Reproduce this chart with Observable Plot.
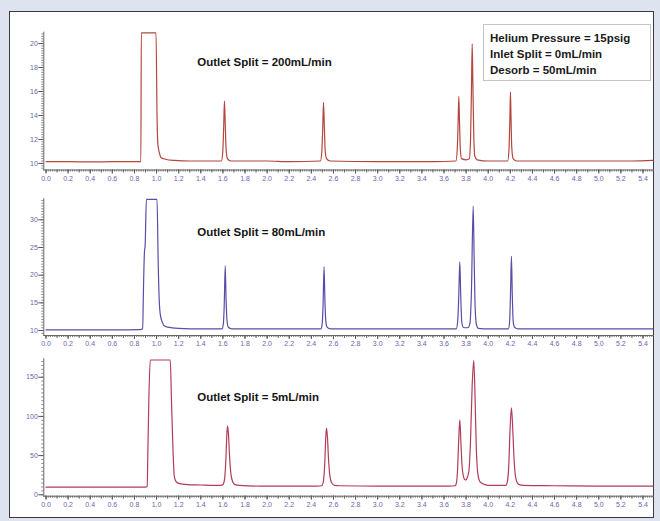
<!DOCTYPE html>
<html><head><meta charset="utf-8">
<script src="https://cdn.jsdelivr.net/npm/d3@7"></script>
<script src="https://cdn.jsdelivr.net/npm/@observablehq/plot@0.6"></script>
<style>
html,body{margin:0;padding:0;}
body{width:660px;height:521px;background:#dde3ef;position:relative;overflow:hidden;font-family:"Liberation Sans",Arial,sans-serif;}
#panel{position:absolute;left:9px;top:11px;width:645px;height:507px;background:#fff;border:1.5px solid #3a3a3a;box-sizing:border-box;}
.plot{position:absolute;left:0;}
#legend{position:absolute;left:483px;top:24px;width:168px;height:57px;border:1px solid #c4c4c4;background:#fff;box-sizing:border-box;padding:4.7px 0 0 6px;font-weight:bold;font-size:11.5px;line-height:16px;color:#1a1a1a;white-space:nowrap;}
</style>
</head><body>
<div id="panel"></div>
<div id="p1" class="plot" style="top:0px"></div>
<div id="p2" class="plot" style="top:188px"></div>
<div id="p3" class="plot" style="top:353px"></div>
<div id="legend"></div>
<script>
// ---- data (time in min, detector signal) ----
const xTicks = [0.0,0.2,0.4,0.6,0.8,1.0,1.2,1.4,1.6,1.8,2.0,2.2,2.4,2.6,2.8,3.0,3.2,3.4,3.6,3.8,4.0,4.2,4.4,4.6,4.8,5.0,5.2,5.4];
const legendLines = ["Helium Pressure = 15psig","Inlet Split = 0mL/min","Desorb = 50mL/min"];
const panelLabels = ["Outlet Split = 200mL/min","Outlet Split = 80mL/min","Outlet Split = 5mL/min"];

const yTicks200 = [10,12,14,16,18,20];
const yTicks80 = [10,15,20,25,30];
const yTicks5 = [0,50,100,150];

const split200 = [
 [0.00,10.15],[0.20,10.15],[0.40,10.12],[0.60,10.15],[0.80,10.15],[0.858,10.15],
 [0.862,20.9],[0.995,20.9],
 [1.005,13.5],[1.012,11.6],[1.025,10.9],[1.04,10.5],[1.08,10.35],[1.16,10.25],[1.30,10.2],[1.50,10.2],
 [1.586,10.2],[1.599,11.0],[1.607,13.0],[1.614,15.2],[1.621,13.4],[1.629,11.2],[1.641,10.4],[1.67,10.2],
 [2.00,10.2],[2.20,10.15],
 [2.482,10.2],[2.495,11.0],[2.503,13.0],[2.510,15.1],[2.517,13.3],[2.525,11.1],[2.537,10.4],[2.57,10.2],
 [3.00,10.15],[3.50,10.15],
 [3.708,10.2],[3.720,11.2],[3.728,13.5],[3.734,15.6],[3.740,13.6],[3.747,11.3],[3.758,10.4],
 [3.80,10.3],[3.829,10.4],[3.840,12.0],[3.849,16.5],[3.855,19.97],[3.861,16.8],[3.869,12.5],[3.879,10.6],[3.90,10.3],
 [4.00,10.2],[4.176,10.2],[4.188,11.2],[4.196,13.8],[4.201,15.97],[4.206,13.9],[4.213,11.3],[4.225,10.4],[4.26,10.2],
 [4.60,10.2],[5.00,10.2],[5.30,10.2],[5.49,10.25]
];

const split80 = [
 [0.00,10.1],[0.30,10.1],[0.60,10.1],[0.85,10.15],[0.874,10.3],[0.882,18],[0.890,24],[0.897,25.5],[0.908,33.7],[1.004,33.7],
 [1.015,22],[1.025,15],[1.033,13],[1.05,11.6],[1.067,10.9],[1.10,10.6],[1.20,10.4],[1.40,10.3],
 [1.592,10.3],[1.604,11.2],[1.612,14.5],[1.621,21.7],[1.629,15.5],[1.637,11.8],[1.649,10.6],[1.68,10.3],
 [2.00,10.3],[2.30,10.3],
 [2.486,10.3],[2.498,11.2],[2.506,14.5],[2.515,21.5],[2.523,15.3],[2.531,11.7],[2.543,10.6],[2.575,10.3],
 [3.00,10.3],[3.50,10.3],
 [3.710,10.3],[3.723,11.5],[3.733,16],[3.743,22.4],[3.751,16.5],[3.761,11.5],[3.774,10.6],
 [3.80,10.5],[3.822,10.6],[3.836,11.5],[3.848,17],[3.864,32.5],[3.872,24],[3.882,14],[3.894,11.0],[3.91,10.4],
 [4.00,10.3],
 [4.182,10.3],[4.193,11.5],[4.202,17],[4.210,23.4],[4.217,17],[4.226,11.6],[4.238,10.6],[4.27,10.3],
 [4.60,10.3],[5.00,10.3],[5.30,10.3],[5.49,10.3]
];

const split5 = [
 [0.00,9.7],[0.30,9.7],[0.60,9.8],[0.90,9.8],[0.915,10.5],[0.922,60],[0.930,120],[0.943,172],[1.124,172],
 [1.135,120],[1.148,60],[1.160,24],[1.175,17],[1.20,14.5],[1.28,13],[1.40,12.5],[1.52,12],[1.58,12],
 [1.600,13],[1.615,20],[1.627,45],[1.636,78],[1.642,88],[1.650,78],[1.660,50],[1.672,27],[1.690,16],[1.71,13],[1.75,12],
 [2.00,11],[2.30,11],[2.45,11],
 [2.495,11.5],[2.510,18],[2.522,42],[2.531,75],[2.537,85],[2.545,75],[2.555,47],[2.567,25],[2.585,15],[2.61,12],[2.65,11.5],
 [3.00,11],[3.40,11],[3.65,11],
 [3.700,11.5],[3.712,15],[3.722,30],[3.733,70],[3.743,95.7],[3.752,70],[3.762,40],[3.775,24],[3.790,19],[3.800,19],[3.810,22],
 [3.825,30],[3.840,70],[3.855,140],[3.869,171.5],[3.880,130],[3.892,60],[3.905,28],[3.920,18],[3.94,15],[3.97,13],[4.00,12],
 [4.160,12],[4.172,16],[4.185,35],[4.198,85],[4.210,111],[4.220,90],[4.232,50],[4.245,25],[4.26,16],[4.28,13],[4.32,12],
 [4.60,11.5],[5.00,11],[5.30,11],[5.49,11]
];

// ---- drawing ----
const labelColor = "#6f64a6";
const xMinor = d3.range(0, 5.49, 0.02);
const xMid = d3.range(0, 5.49, 0.1);

function panel(data, o) {
  return Plot.plot({
    width: 660, height: o.height,
    marginLeft: 43.3, marginRight: 7, marginTop: o.mt, marginBottom: o.mb,
    style: {background: "transparent", fontFamily: "Liberation Sans, Arial, sans-serif", fontSize: "7px", overflow: "visible"},
    x: {domain: [-0.02, 5.495]},
    y: {domain: o.ydom},
    marks: [
      Plot.axisX({ticks: xMinor, tickSize: 2, fill: "none", stroke: "#777", label: null}),
      Plot.axisX({ticks: xMid, tickSize: 3, fill: "none", stroke: "#666", label: null}),
      Plot.axisX({ticks: xTicks, tickSize: 4, tickPadding: 2, tickFormat: d3.format(".1f"), fill: labelColor, stroke: "#555", label: null}),
      Plot.axisY({ticks: o.yminor, tickSize: 2, fill: "none", stroke: "#888", label: null}),
      Plot.axisY({ticks: o.yticks, tickSize: 5, tickPadding: 1, fill: labelColor, stroke: "#555", label: null}),
      Plot.frame({anchor: "left", stroke: "#666"}),
      Plot.frame({anchor: "bottom", stroke: "#666"}),
      Plot.line(data, {x: d => d[0], y: d => d[1], stroke: o.color, strokeWidth: 1.2, curve: "monotone-x"}),
      Plot.text([o.label], {frameAnchor: "top-left", dx: 153.4, dy: o.labelDy, textAnchor: "start", lineAnchor: "middle", fontWeight: "bold", fontSize: 11.5, fill: "#151515"})
    ]
  });
}

document.getElementById("p1").append(panel(split200, {
  height: 188, mt: 31.7, mb: 18.5, ydom: [9.45, 20.95], yticks: yTicks200,
  yminor: d3.range(9.6, 20.9, 0.2), color: "#b4463e", label: panelLabels[0], labelDy: 30.3
}));
document.getElementById("p2").append(panel(split80, {
  height: 165, mt: 10.3, mb: 18, ydom: [9.1, 33.8], yticks: yTicks80,
  yminor: d3.range(9.5, 33.6, 0.5), color: "#5b4ca8", label: panelLabels[1], labelDy: 33.4
}));
document.getElementById("p3").append(panel(split5, {
  height: 168, mt: 5.3, mb: 25.3, ydom: [-1.8, 173.5], yticks: yTicks5,
  yminor: d3.range(0, 171, 5), color: "#b23c5a", label: panelLabels[2], labelDy: 38.4
}));

const lg = document.getElementById("legend");
legendLines.forEach(t => { const d = document.createElement("div"); d.textContent = t; lg.append(d); });
</script>
</body></html>
